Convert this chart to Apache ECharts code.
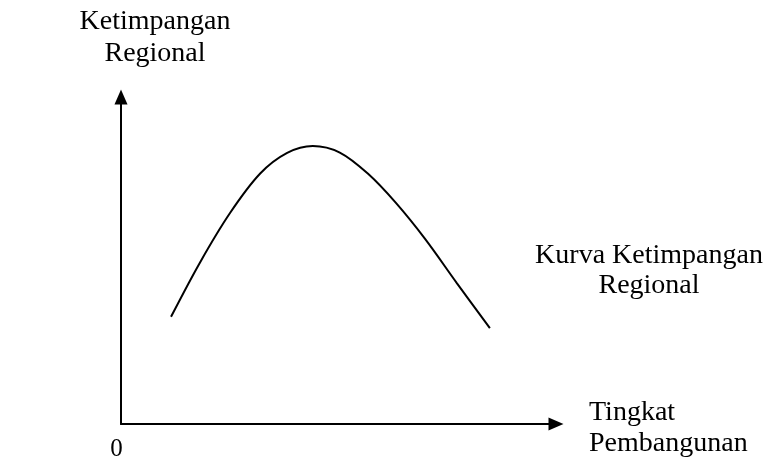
<!DOCTYPE html>
<html>
<head>
<meta charset="utf-8">
<script src="https://cdn.jsdelivr.net/npm/echarts@6/dist/echarts.min.js"></script>
<style>
  html, body { margin: 0; padding: 0; background: #fff; }
  #chart { width: 765px; height: 467px; }
</style>
</head>
<body>
<div id="chart"></div>
<script>
// tingkat pembangunan (x) dan ketimpangan regional (y), skala 0-100
var levelX = [11.5, 18.2, 25.1, 32.0, 38.2, 44.1, 50.3, 56.8, 63.2, 69.9, 77.2, 84.8];
var gapY = [32.8, 49.5, 64.6, 76.6, 82.9, 85.0, 83.0, 76.5, 67.6, 56.6, 43.1, 29.3];

var yTitle = "Ketimpangan\nRegional";
var xTitle = "Tingkat\nPembangunan";
var curveLabel = "Kurva Ketimpangan\nRegional";
var originLabel = "0";

var points = [];
for (var i = 0; i < levelX.length; i++) {
  points.push([levelX[i], gapY[i]]);
}

var font = "'Liberation Serif', 'Times New Roman', serif";
var chart = echarts.init(document.getElementById("chart"));

var axisBase = {
  type: "value",
  min: 0,
  max: 100,
  axisLine: {
    show: true,
    symbol: ["none", "triangle"],
    symbolSize: [13, 15],
    lineStyle: { color: "#000", width: 2 }
  },
  axisTick: { show: false },
  axisLabel: { show: false },
  splitLine: { show: false }
};

var option = {
  backgroundColor: "#fff",
  animation: false,
  grid: { left: 121, right: 209, top: 97, bottom: 43 },
  xAxis: Object.assign({}, axisBase),
  yAxis: Object.assign({}, axisBase),
  graphic: [
    {
      type: "text",
      x: 155, y: 6,
      style: { text: yTitle, font: "28px " + font, fill: "#000", align: "center", lineHeight: 32 }
    },
    {
      type: "text",
      x: 589, y: 397,
      style: { text: xTitle, font: "28px " + font, fill: "#000", lineHeight: 31 }
    },
    {
      type: "text",
      x: 649, y: 241,
      style: { text: curveLabel, font: "28px " + font, fill: "#000", align: "center", lineHeight: 30 }
    },
    {
      type: "text",
      x: 116.5, y: 437,
      style: { text: originLabel, font: "25px " + font, fill: "#000", align: "center" }
    }
  ],
  series: [
    {
      type: "line",
      data: points,
      smooth: 0.33,
      showSymbol: false,
      lineStyle: { color: "#000", width: 2 }
    }
  ]
};

chart.setOption(option);
</script>
</body>
</html>
